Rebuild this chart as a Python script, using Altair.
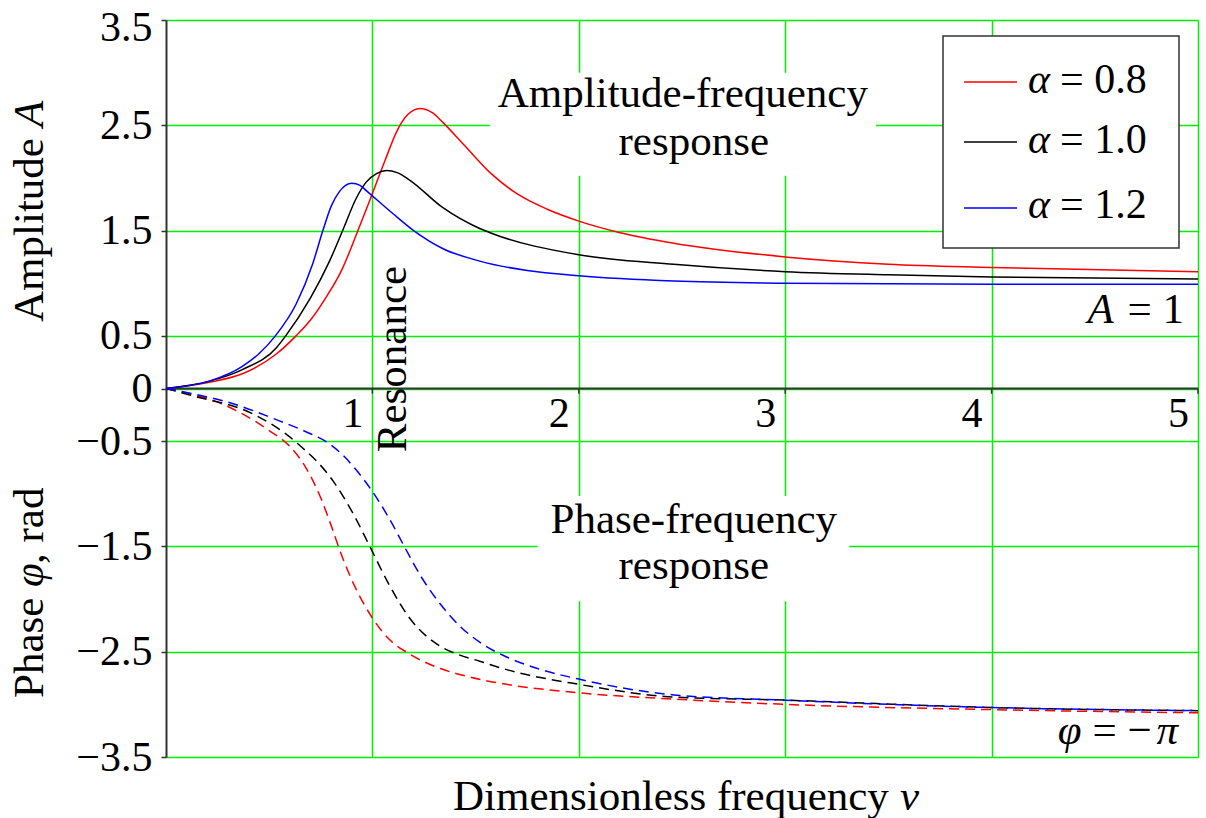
import altair as alt
import pandas as pd

# ---------------- data ----------------
alpha_values = ["0.8", "1.0", "1.2"]
line_colors = ["#ff0000", "#000000", "#0000ff"]

# amplitude-frequency response
nu_A_08 = [0, 0.21, 0.37, 0.536, 0.63, 0.70, 0.78, 0.85, 0.93, 0.99, 1.06, 1.12, 1.17, 1.23, 1.29, 1.34, 1.45, 1.57, 1.70, 1.85, 2.0, 2.2, 2.46, 3.0, 3.5, 4.0, 5.0]
A_08 = [0, 0.06, 0.14, 0.33, 0.5, 0.65, 0.88, 1.12, 1.5, 1.80, 2.16, 2.45, 2.60, 2.66, 2.62, 2.53, 2.30, 2.05, 1.85, 1.70, 1.59, 1.48, 1.38, 1.25, 1.18, 1.15, 1.11]

nu_A_10 = [0, 0.21, 0.37, 0.536, 0.58, 0.70, 0.79, 0.86, 0.92, 0.97, 1.02, 1.07, 1.12, 1.18, 1.34, 1.52, 1.57, 2.0, 2.46, 3.0, 3.5, 4.0, 5.0]
A_10 = [0, 0.07, 0.18, 0.39, 0.5, 0.86, 1.20, 1.52, 1.80, 1.96, 2.04, 2.07, 2.05, 1.98, 1.72, 1.52, 1.48, 1.27, 1.18, 1.11, 1.08, 1.06, 1.04]

nu_A_12 = [0, 0.21, 0.37, 0.45, 0.53, 0.63, 0.71, 0.76, 0.80, 0.84, 0.87, 0.90, 0.94, 0.97, 1.10, 1.20, 1.34, 1.52, 1.75, 2.0, 2.46, 3.0, 4.0, 5.0]
A_12 = [0, 0.07, 0.21, 0.33, 0.5, 0.80, 1.18, 1.5, 1.73, 1.87, 1.93, 1.95, 1.93, 1.88, 1.66, 1.50, 1.33, 1.21, 1.12, 1.07, 1.02, 1.00, 0.99, 0.99]

# phase-frequency response
nu_P_08 = [0, 0.13, 0.21, 0.35, 0.50, 0.60, 0.68, 0.75, 0.80, 0.85, 0.91, 1.00, 1.08, 1.17, 1.33, 1.47, 1.65, 2.0, 2.46, 3.0, 4.0, 5.0]
P_08 = [0, -0.06, -0.10, -0.22, -0.40, -0.55, -0.76, -1.04, -1.30, -1.58, -1.86, -2.18, -2.38, -2.51, -2.66, -2.74, -2.81, -2.89, -2.95, -3.00, -3.05, -3.08]

nu_P_10 = [0, 0.13, 0.42, 0.63, 0.81, 0.91, 0.99, 1.08, 1.18, 1.33, 1.42, 1.52, 1.65, 2.0, 2.46, 3.0, 4.0, 5.0]
P_10 = [0, -0.07, -0.24, -0.51, -0.88, -1.20, -1.51, -1.86, -2.18, -2.45, -2.53, -2.59, -2.67, -2.81, -2.93, -2.96, -3.03, -3.06]

nu_P_12 = [0, 0.13, 0.30, 0.54, 0.70, 0.78, 0.85, 0.92, 0.99, 1.08, 1.16, 1.24, 1.33, 1.42, 1.52, 1.65, 1.80, 2.0, 2.46, 3.0, 3.5, 4.0, 5.0]
P_12 = [0, -0.05, -0.13, -0.30, -0.43, -0.51, -0.62, -0.77, -0.95, -1.23, -1.52, -1.80, -2.05, -2.25, -2.41, -2.55, -2.66, -2.76, -2.91, -2.96, -3.00, -3.03, -3.06]

x_ticks = [1, 2, 3, 4, 5]
x_tick_labels = ["1", "2", "3", "4", "5"]
y_ticks = [-3.5, -2.5, -1.5, -0.5, 0, 0.5, 1.5, 2.5, 3.5]

# ---------------- tables ----------------
def series(label, xs_, vs):
    return pd.DataFrame({"alpha": label, "nu": xs_, "val": vs})

amp_df = pd.concat([series(alpha_values[0], nu_A_08, A_08),
                    series(alpha_values[1], nu_A_10, A_10),
                    series(alpha_values[2], nu_A_12, A_12)], ignore_index=True)
ph_df = pd.concat([series(alpha_values[0], nu_P_08, P_08),
                   series(alpha_values[1], nu_P_10, P_10),
                   series(alpha_values[2], nu_P_12, P_12)], ignore_index=True)

FONT = "Liberation Serif"
FS = 43
GREEN = "#00ee00"
AXIS_COL = "#333333"

xs = alt.Scale(domain=[0, 5], nice=False, zero=False)
ys = alt.Scale(domain=[-3.5, 3.5], nice=False, zero=False)
cs = alt.Scale(domain=alpha_values, range=line_colors)

X_AXIS = alt.Axis(values=x_ticks, grid=True, gridColor=GREEN, gridWidth=1.5,
                  labels=False, ticks=False, domain=False, title=None)
Y_AXIS = alt.Axis(
    values=y_ticks, grid=True, gridColor=GREEN, gridWidth=1.5,
    labelExpr="datum.value == 0 ? '0' : (datum.value < 0 ? '\u2212' + format(-datum.value, '.1f') : format(datum.value, '.1f'))",
    labelFont=FONT, labelFontSize=42, labelColor="black", labelPadding=9,
    labelOffset={"condition": {"test": "datum.value == 3.5", "value": 7}, "value": 0},
    tickSize=5, tickColor=AXIS_COL, tickWidth=1.5, domainColor=AXIS_COL, domainWidth=2, title=None)


def X(field):
    return alt.X(field, type="quantitative", scale=xs, axis=X_AXIS)


def Y(field):
    return alt.Y(field, type="quantitative", scale=ys, axis=Y_AXIS)


# white boxes behind the two annotations
boxes = pd.DataFrame({"x": [1.569, 1.80], "x2": [3.44, 3.31], "y": [2.02, -2.02], "y2": [3.0, -1.02]})
box_layer = alt.Chart(boxes).mark_rect(color="white").encode(x=X("x"), x2="x2", y=Y("y"), y2="y2")

# horizontal axis line at zero with ticks and labels
zero_df = pd.DataFrame({"x": [0], "x2": [5], "y": [0]})
zero_rule = alt.Chart(zero_df).mark_rule(color=AXIS_COL, strokeWidth=2).encode(x=X("x"), x2="x2", y=Y("y"))

xt_df = pd.DataFrame({"x": x_ticks, "y": [0] * 5, "y2": [-0.05] * 5, "t": x_tick_labels})
x_tick_marks = alt.Chart(xt_df).mark_rule(color=AXIS_COL, strokeWidth=1.5).encode(x=X("x"), y=Y("y"), y2="y2")
x_tick_text = alt.Chart(xt_df).mark_text(font=FONT, fontSize=42, color="black", align="right",
                                         baseline="top", dx=-9, dy=5).encode(x=X("x"), y=Y("y"), text="t:N")

amp_lines = alt.Chart(amp_df).mark_line(strokeWidth=1.5, interpolate="monotone").encode(
    x=X("nu"), y=Y("val"), color=alt.Color("alpha:N", scale=cs, legend=None))
ph_lines = alt.Chart(ph_df).mark_line(strokeWidth=1.5, strokeDash=[10, 6], interpolate="monotone").encode(
    x=X("nu"), y=Y("val"), color=alt.Color("alpha:N", scale=cs, legend=None))


def dtext(text, x, y, style="normal", align="center", angle=0, baseline="alphabetic"):
    df = pd.DataFrame({"x": [x], "y": [y], "t": [text]})
    return alt.Chart(df).mark_text(font=FONT, fontSize=FS, color="black", fontStyle=style,
                                   align=align, baseline=baseline, angle=angle).encode(
        x=X("x"), y=Y("y"), text="t:N")


def ptext(text, px, py, style="normal", align="left", angle=0, baseline="alphabetic", size=FS):
    df = pd.DataFrame({"t": [text]})
    return alt.Chart(df).mark_text(font=FONT, fontSize=size, color="black", fontStyle=style,
                                   align=align, baseline=baseline, angle=angle).encode(
        x=alt.value(px), y=alt.value(py), text="t:N")


annotations = [
    dtext("Amplitude-frequency", 2.504, 2.671),
    dtext("response", 2.557, 2.214),
    dtext("Phase-frequency", 2.557, -1.376),
    dtext("response", 2.557, -1.814),
    dtext("Resonance", 1.162, 0.28, angle=270),
    dtext("A", 4.465, 0.624, style="italic", align="left"),
    dtext("= 1", 4.659, 0.624, align="left"),
    dtext("φ", 4.320, -3.376, style="italic", align="left"),
    dtext("= \u2212", 4.489, -3.376, align="left"),
    dtext("π", 4.799, -3.376, style="italic", align="left"),
    # axis titles
    ptext("Amplitude", -123, 302, angle=270),
    ptext("A", -123, 107, style="italic", angle=270),
    ptext("Phase", -123, 678, angle=270),
    ptext("φ", -123, 567, style="italic", angle=270),
    ptext(", rad", -123, 544, angle=270),
    ptext("Dimensionless frequency", 287, 790),
    ptext("ν", 734, 790, style="italic"),
]

# legend (box, sample lines, labels)
leg_df = pd.DataFrame({"alpha": alpha_values, "ly": [62, 122, 188], "ty": [73, 133, 198],
                       "lab": ["= " + a for a in alpha_values], "sym": ["α"] * 3})
leg_box = alt.Chart(pd.DataFrame({"a": [0]})).mark_rect(fill="white", stroke=AXIS_COL, strokeWidth=1.5).encode(
    x=alt.value(777), x2=alt.value(1013), y=alt.value(16), y2=alt.value(228))
leg_lines = alt.Chart(leg_df).mark_rule(strokeWidth=1.5).encode(
    x=alt.value(798), x2=alt.value(851), y=alt.Y("ly:Q", scale=None, axis=None),
    color=alt.Color("alpha:N", scale=cs, legend=None))
leg_sym = alt.Chart(leg_df).mark_text(font=FONT, fontSize=42, fontStyle="italic", color="black",
                                      align="left", baseline="alphabetic").encode(
    x=alt.value(862), y=alt.Y("ty:Q", scale=None, axis=None), text="sym:N")
leg_lab = alt.Chart(leg_df).mark_text(font=FONT, fontSize=42, color="black",
                                      align="left", baseline="alphabetic").encode(
    x=alt.value(894), y=alt.Y("ty:Q", scale=None, axis=None), text="lab:N")

chart = alt.layer(box_layer, zero_rule, x_tick_marks, x_tick_text, amp_lines, ph_lines,
                  leg_box, leg_lines, leg_sym, leg_lab, *annotations).properties(
    width=1032, height=737,
    autosize=alt.AutoSizeParams(type="none"),
    padding={"left": 166, "top": 20, "right": 8, "bottom": 61},
    background="white",
).configure_view(strokeWidth=0)

chart.save("out.html", embed_options={"renderer": "svg", "actions": False})
